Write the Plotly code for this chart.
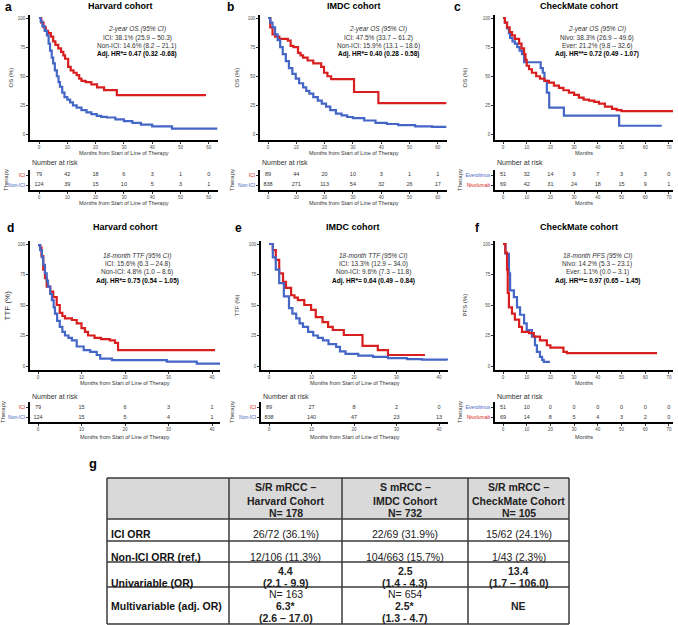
import plotly.graph_objects as go

W, H = 678, 625
RED = "#d81e1e"
BLUE = "#4466c6"
FONT = "Liberation Sans, Arial, sans-serif"

# ---- Kaplan-Meier curves (months, % surviving) ----
# a: Harvard OS
a_ici_t = [0, 0.8, 1.6, 2.4, 3.2, 4.2, 5, 5.8, 6.8, 7.8, 8.6, 9.2, 10.3, 11.2, 12.2, 13.3, 14.2, 15, 16.5, 18.5, 20.5, 23, 27.5, 59]
a_ici_s = [100, 96, 92, 89, 87, 84, 80, 77, 74, 71, 68, 65, 58, 55, 53, 51, 48, 46, 45, 43, 40.5, 38.1, 33.8, 33.8]
a_non_t = [0, 0.6, 1.2, 2, 2.8, 3.4, 3.9, 4.5, 5, 5.6, 6.3, 6.9, 7.4, 8.2, 9, 10, 11, 12, 13.3, 15, 16.8, 18.5, 20.4, 22, 24, 27, 30, 33, 36, 40, 47, 63]
a_non_s = [100, 97, 93, 89, 85, 78, 72, 66, 61, 55, 50, 45, 41, 36, 32, 30, 27.5, 25, 23, 21, 19, 17.5, 16, 15.2, 14.6, 13, 11.5, 10, 8.5, 7, 5, 5]
# b: IMDC OS
b_ici_t = [0, 0.8, 1.6, 2.5, 4, 7, 8, 9, 10.6, 11.5, 12.4, 14, 16, 18.8, 19.8, 21, 22.3, 30.4, 39, 63]
b_ici_s = [100, 92, 86, 84, 82, 80.5, 76, 75, 70, 68, 66, 63.5, 61, 58, 53, 50, 47.5, 36.5, 27, 27]
b_non_t = [0, 0.8, 1.6, 2.5, 3.4, 4.3, 5.2, 6.3, 7.4, 8.6, 9.8, 11, 12.4, 13.5, 14.6, 16, 17.6, 19, 20.5, 22, 24, 26, 28, 30, 34, 38, 42, 46, 52, 58, 63]
b_non_s = [100, 96, 92, 86, 81, 75, 69, 63, 57, 52, 48, 44, 40.5, 37.5, 35, 32, 29, 26.5, 24, 21, 18, 16.5, 15, 14, 12, 10, 9, 8, 7, 6.5, 6.5]
# c: CheckMate OS
c_niv_t = [0, 0.8, 1.7, 2.8, 3.8, 5, 6.8, 7.8, 8.9, 9.5, 10, 11, 12.2, 14, 15.6, 17.5, 19.4, 21.5, 23.6, 25.5, 27.8, 30, 32, 34, 36.3, 38.5, 40.5, 43, 46, 48, 50, 72]
c_niv_s = [100, 96, 92, 88, 85, 82, 78, 74, 69, 64, 59, 56, 53, 50, 48, 46, 44.5, 42, 40, 38, 36, 34, 31.6, 30, 29, 28, 26.5, 24, 22, 21, 20, 20]
c_eve_t = [0, 0.8, 1.7, 2.5, 3, 4, 5, 6, 7, 8, 8.9, 15.9, 16.8, 17.5, 18.5, 19.5, 25.7, 49, 67]
c_eve_s = [100, 96, 91, 87, 83, 80, 78, 75, 72, 69, 62, 57, 53, 46, 36, 23, 16.2, 7.5, 7.5]
# d: Harvard TTF
d_ici_t = [0, 0.5, 0.8, 1.2, 1.6, 2, 2.8, 3.5, 4.3, 5, 5.6, 6.2, 7.8, 8.9, 10, 10.8, 11.5, 13, 14.5, 16.5, 17.7, 18.4, 40.7]
d_ici_s = [99, 97, 90, 79, 72, 65, 61, 56.5, 50, 43.5, 41, 39, 37.7, 35, 31, 28, 25, 23, 22, 21, 19, 13, 13]
d_non_t = [0, 0.5, 0.9, 1.2, 1.6, 2, 2.3, 2.8, 3.2, 3.6, 3.9, 4.4, 5, 5.6, 6.2, 7, 7.8, 8.9, 10.5, 12, 13.5, 14.3, 17, 22, 29.6, 36.5, 42]
d_non_s = [99, 95, 89, 83, 76, 70, 65, 59, 54, 48, 43, 37, 32, 28, 25, 23, 21, 16, 13, 11.5, 9, 6, 4.8, 4.8, 3.6, 2, 2]
# e: IMDC TTF
e_ici_t = [0, 0.9, 1.6, 2.4, 3.3, 4, 5.2, 6, 6.8, 8.3, 9.9, 11, 12.6, 13.9, 15, 17.6, 22, 25.6, 28, 36.7]
e_ici_s = [100, 95, 87, 76, 69, 64, 58, 56, 54, 50, 46, 40, 36, 32, 29.5, 25.4, 16.5, 13, 9, 9]
e_non_t = [0, 0.9, 1.6, 2.4, 3.5, 4.7, 5.5, 6.4, 7.2, 8, 9.2, 10.4, 11.5, 12.7, 14, 15.8, 16.7, 18, 21, 24.5, 28, 32.5, 36, 42]
e_non_s = [100, 89, 79, 68, 57, 47.5, 43, 39, 35, 32, 28, 25, 23, 21, 18, 15.6, 12, 10, 8.5, 7.4, 6.5, 5.7, 5.2, 4.9]
# f: CheckMate PFS
f_niv_t = [0, 1, 1.7, 2, 2.5, 3.8, 5, 6.8, 8, 11, 13, 15.6, 18.5, 20, 25.5, 27, 65]
f_niv_s = [100, 93, 79, 60, 48, 43, 38, 32, 28, 27, 24, 21, 17, 15, 11.5, 10.5, 10.5]
f_eve_t = [0, 1, 2.5, 3, 4.6, 5.9, 7.2, 8.9, 10, 12.2, 13.5, 14.3, 15.6, 16.5, 17.2, 19.8]
f_eve_s = [100, 92, 76, 62, 56.5, 48, 42, 35, 29.5, 24, 17, 11.5, 7.4, 5, 3.3, 3.3]

# ---- number at risk ----
risk_t60 = [0, 10, 20, 30, 40, 50, 60]
risk_t70 = [0, 10, 20, 30, 40, 50, 60, 70]
risk_t40 = [0, 10, 20, 30, 40]
a_risk_ici = [79, 42, 18, 6, 3, 1, 0]
a_risk_non = [124, 39, 15, 10, 5, 3, 1]
b_risk_ici = [89, 44, 20, 10, 3, 1, 1]
b_risk_non = [838, 271, 113, 54, 32, 26, 17]
c_risk_eve = [51, 32, 14, 9, 7, 3, 3, 0]
c_risk_niv = [69, 42, 31, 24, 18, 15, 9, 1]
d_risk_ici = [79, 15, 6, 3, 1]
d_risk_non = [124, 15, 5, 4, 1]
e_risk_ici = [89, 27, 8, 2, 0]
e_risk_non = [838, 140, 47, 23, 13]
f_risk_eve = [51, 10, 0, 0, 0, 0, 0, 0]
f_risk_niv = [69, 14, 8, 5, 4, 3, 2, 0]

# ---- table g (one list of text lines per cell) ----
tbl_header = [[""], ["S/R mRCC –", "Harvard Cohort", "N= 178"], ["S mRCC –", "IMDC Cohort", "N= 732"],
              ["S/R mRCC –", "CheckMate Cohort", "N= 105"]]
tbl_rows = [["<b>ICI ORR</b>"], ["<b>Non-ICI ORR (ref.)</b>"], ["<b>Univariable (OR)</b>"],
            ["<b>Multivariable (adj. OR)</b>"]]
tbl_harvard = [["26/72 (36.1%)"], ["12/106 (11.3%)"], ["<b>4.4</b>", "<b>(2.1 - 9.9)</b>"],
               ["N= 163", "<b>6.3*</b>", "<b>(2.6 – 17.0)</b>"]]
tbl_imdc = [["22/69 (31.9%)"], ["104/663 (15.7%)"], ["<b>2.5</b>", "<b>(1.4 - 4.3)</b>"],
            ["N= 654", "<b>2.5*</b>", "<b>(1.3 - 4.7)</b>"]]
tbl_checkmate = [["15/62 (24.1%)"], ["1/43 (2.3%)"], ["<b>13.4</b>", "<b>(1.7 – 106.0)</b>"], ["<b>NE</b>"]]


def px(x):
    return x / W


def py(y):
    return 1 - y / H


panels = [
    dict(letter="a", title="Harvard cohort", ylab="OS (%)",
         stats=["<i>2-year OS (95% CI)</i>", "ICI: 38.1% (25.9 – 50.3)", "Non-ICI: 14.6% (8.2 – 21.1)",
                "<b>Adj. HR*= 0.47 (0.32 -0.68)</b>"],
         curves=[(a_ici_t, a_ici_s, RED), (a_non_t, a_non_s, BLUE)],
         rlabels=[("ICI", RED), ("Non-ICI", BLUE)], rt=risk_t60, rvals=[a_risk_ici, a_risk_non],
         xd=(30, 218), x0=39, k=2.83, ticks=risk_t60, row=0, xt="Months from Start of Line of Therapy",
         lx=8, tx=120, sx=137, yl=10, th=6),
    dict(letter="b", title="IMDC cohort", ylab="OS (%)",
         stats=["<i>2-year OS (95% CI)</i>", "ICI: 47.5% (33.7 – 61.2)", "Non-ICI: 15.9% (13.1 – 18.6)",
                "<b>Adj. HR*= 0.40 (0.28 - 0.58)</b>"],
         curves=[(b_ici_t, b_ici_s, RED), (b_non_t, b_non_s, BLUE)],
         rlabels=[("ICI", RED), ("Non-ICI", BLUE)], rt=risk_t60, rvals=[b_risk_ici, b_risk_non],
         xd=(260, 447), x0=268, k=2.83, ticks=risk_t60, row=0, xt="Months from Start of Line of Therapy",
         lx=231, tx=354, sx=378, yl=236, th=6),
    dict(letter="c", title="CheckMate cohort", ylab="OS (%)",
         stats=["<i>2-year OS (95% CI)</i>", "Nivo: 38.3% (26.9 – 49.6)", "Ever: 21.2% (9.8 – 32.6)",
                "<b>Adj. HR**= 0.72 (0.49 - 1.07)</b>"],
         curves=[(c_eve_t, c_eve_s, BLUE), (c_niv_t, c_niv_s, RED)],
         rlabels=[("Everolimus", BLUE), ("Nivolumab", RED)], rt=risk_t70, rvals=[c_risk_eve, c_risk_niv],
         xd=(495, 673), x0=503, k=2.37, ticks=risk_t70, row=0, xt="Months",
         lx=457, tx=579, sx=597, yl=464, th=6),
    dict(letter="d", title="Harvard cohort", ylab="TTF (%)",
         stats=["<i>18-month TTF (95% CI)</i>", "ICI: 15.6% (6.3 – 24.8)", "Non-ICI: 4.8% (1.0 – 8.6)",
                "<b>Adj. HR*= 0.75 (0.54 – 1.05)</b>"],
         curves=[(d_ici_t, d_ici_s, RED), (d_non_t, d_non_s, BLUE)],
         rlabels=[("ICI", RED), ("Non-ICI", BLUE)], rt=risk_t40, rvals=[d_risk_ici, d_risk_non],
         xd=(30, 220), x0=38, k=4.35, ticks=risk_t40, row=1, xt="Months from Start of Line of Therapy",
         lx=10, tx=125, sx=137, yl=7, th=227),
    dict(letter="e", title="IMDC cohort", ylab="TTF (%)",
         stats=["<i>18-month TTF (95% CI)</i>", "ICI: 13.3% (12.9 – 34.0)", "Non-ICI: 9.6% (7.3 – 11.8)",
                "<b>Adj. HR*= 0.64 (0.49 – 0.84)</b>"],
         curves=[(e_ici_t, e_ici_s, RED), (e_non_t, e_non_s, BLUE)],
         rlabels=[("ICI", RED), ("Non-ICI", BLUE)], rt=risk_t40, rvals=[e_risk_ici, e_risk_non],
         xd=(261, 448), x0=269, k=4.25, ticks=risk_t40, row=1, xt="Months from Start of Line of Therapy",
         lx=239, tx=353, sx=373, yl=236, th=227),
    dict(letter="f", title="CheckMate cohort", ylab="PFS (%)",
         stats=["<i>18-month PFS (95% CI)</i>", "Nivo: 14.2% (5.3 – 23.1)", "Ever: 1.1% (0.0 – 3.1)",
                "<b>Adj. HR**= 0.97 (0.65 – 1.45)</b>"],
         curves=[(f_eve_t, f_eve_s, BLUE), (f_niv_t, f_niv_s, RED)],
         rlabels=[("Everolimus", BLUE), ("Nivolumab", RED)], rt=risk_t70, rvals=[f_risk_eve, f_risk_niv],
         xd=(495, 673), x0=503, k=2.37, ticks=risk_t70, row=1, xt="Months",
         lx=477, tx=579, sx=597, yl=464, th=227),
]

# vertical pixel geometry per row of panels
rows = [
    dict(km=(15, 140), y100=18, y0=134.5, kmxt=152.5, nar=163, risk=(170, 190), r1=175, r0=185, rxt=203,
         stats=[29.3, 37.5, 45.6, 53.5]),
    dict(km=(241, 370), y100=244, y0=366, kmxt=383, nar=396, risk=(402, 422), r1=407.7, r0=417.3, rxt=436.5,
         stats=[255.5, 263.7, 272.5, 281]),
]

fig = go.Figure()
layout = dict(width=W, height=H, margin=dict(l=0, r=0, t=0, b=0), paper_bgcolor="white",
              plot_bgcolor="white", font=dict(family=FONT, color="#222"), showlegend=False)
anns = []
shapes = []


def ann(text, x, y, size, color="#222", xanchor="center", angle=0):
    anns.append(dict(text=text, x=px(x), y=py(y), xref="paper", yref="paper", showarrow=False,
                     xanchor=xanchor, yanchor="middle", textangle=angle,
                     font=dict(size=size, color=color, family=FONT)))


axis_style = dict(showline=True, linecolor="black", linewidth=1.5, ticks="outside", ticklen=2,
                  tickwidth=0.8, tickcolor="#333", showgrid=False, zeroline=False,
                  tickfont=dict(size=4.5, color="#4d4d4d"))

for i, p in enumerate(panels):
    r = rows[p["row"]]
    n_km = i + 1
    n_rk = i + 7
    lo = (p["xd"][0] - p["x0"]) / p["k"]
    hi = (p["xd"][1] - p["x0"]) / p["k"]
    kpp = (r["y0"] - r["y100"]) / 100.0
    ylo = -(r["km"][1] - r["y0"]) / kpp
    yhi = 100 + (r["y100"] - r["km"][0]) / kpp

    xdom = [px(p["xd"][0]), px(p["xd"][1])]
    layout[f"xaxis{n_km}"] = dict(domain=xdom, range=[lo, hi], tickvals=p["ticks"], anchor=f"y{n_km}", **axis_style)
    layout[f"yaxis{n_km}"] = dict(domain=[py(r["km"][1]), py(r["km"][0])], range=[ylo, yhi],
                                  tickvals=[0, 25, 50, 75, 100], anchor=f"x{n_km}", **axis_style)
    for t, s, col in p["curves"]:
        fig.add_trace(go.Scatter(x=t, y=s, mode="lines", line=dict(color=col, width=2.2, shape="hv"),
                                 xaxis=f"x{n_km}", yaxis=f"y{n_km}", hoverinfo="skip"))

    # number-at-risk table
    rpp = r["r0"] - r["r1"]
    rlo = -(r["risk"][1] - r["r0"]) / rpp
    rhi = 1 + (r["r1"] - r["risk"][0]) / rpp
    layout[f"xaxis{n_rk}"] = dict(domain=xdom, range=[lo, hi], tickvals=p["ticks"], anchor=f"y{n_rk}", **axis_style)
    ry = dict(axis_style)
    ry["tickfont"] = dict(size=5, color="#4d4d4d")
    layout[f"yaxis{n_rk}"] = dict(domain=[py(r["risk"][1]), py(r["risk"][0])], range=[rlo, rhi],
                                  tickvals=[1, 0],
                                  ticktext=[f"<span style='color:{c}'>{lab}</span>" for lab, c in p["rlabels"]],
                                  anchor=f"x{n_rk}", **ry)
    for yv, vals in zip([1, 0], p["rvals"]):
        fig.add_trace(go.Scatter(x=p["rt"], y=[yv] * len(p["rt"]), mode="text", text=[str(v) for v in vals],
                                 textfont=dict(size=5.5, color="#333", family=FONT),
                                 xaxis=f"x{n_rk}", yaxis=f"y{n_rk}", hoverinfo="skip"))

    xc = (p["xd"][0] + p["xd"][1]) / 2
    ann(f"<b>{p['letter']}</b>", p["lx"], p["th"] + 1, 12, color="black")
    ann(f"<b>{p['title']}</b>", p["tx"], p["th"], 9, color="black")
    for j, line in enumerate(p["stats"]):
        ann(line, p["sx"], r["stats"][j], 6.5, color="black" if j == 3 else "#333")
    ann(p["xt"], xc, r["kmxt"], 5.5, color="#333")
    ann(p["xt"], xc, r["rxt"], 5.5, color="#333")
    ann(p["ylab"], p["yl"], (r["km"][0] + r["km"][1]) / 2, 8 if p["letter"] == "d" else 6, color="#333", angle=-90)
    ann("Number at risk", p["xd"][0], r["nar"], 7, color="#333", xanchor="left")
    ann("Therapy", p["yl"] - 4, (r["risk"][0] + r["risk"][1]) / 2, 6, color="#333", angle=-90)

# ---- table g: grid drawn as shapes, text as annotations ----
ann("<b>g</b>", 93, 463, 13, color="black")
col_edges = [107, 229, 342, 468, 569]
row_edges = [478, 519, 541, 562, 587, 624]
row_slots = [[487, 500.5, 513], [534], [556.5], [570.5, 582.5], [594, 606, 618]]
LINE = dict(color="#3a3a3a", width=1.5)

shapes.append(dict(type="rect", xref="paper", yref="paper", x0=px(col_edges[0]), x1=px(col_edges[-1]),
                   y0=py(row_edges[1]), y1=py(row_edges[0]), fillcolor="#d9d9d9", line=dict(width=0), layer="below"))
for ye in row_edges:
    shapes.append(dict(type="line", xref="paper", yref="paper", x0=px(col_edges[0]), x1=px(col_edges[-1]),
                       y0=py(ye), y1=py(ye), line=LINE))
for xe in col_edges:
    shapes.append(dict(type="line", xref="paper", yref="paper", x0=px(xe), x1=px(xe),
                       y0=py(row_edges[-1]), y1=py(row_edges[0]), line=LINE))

columns = [[tbl_header[0]] + tbl_rows, [tbl_header[1]] + tbl_harvard,
           [tbl_header[2]] + tbl_imdc, [tbl_header[3]] + tbl_checkmate]
for ci, col in enumerate(columns):
    for ri, lines in enumerate(col):
        slots = row_slots[ri]
        start = (len(slots) - len(lines) + 1) // 2
        for li, txt in enumerate(lines):
            if not txt:
                continue
            if ri == 0:
                txt = f"<b>{txt}</b>"
            if ci == 0:
                ann(txt, col_edges[0] + 2, slots[start + li], 10.5, color="#111", xanchor="left")
            else:
                ann(txt, (col_edges[ci] + col_edges[ci + 1]) / 2, slots[start + li], 10.5, color="#222")

layout["annotations"] = anns
layout["shapes"] = shapes
fig.update_layout(**layout)
# the page body has a default 8px margin; drop it so the 678x625 figure fills the window
fig.write_html("out.html", config={"displayModeBar": False},
               post_script="document.body.style.margin='0';")
